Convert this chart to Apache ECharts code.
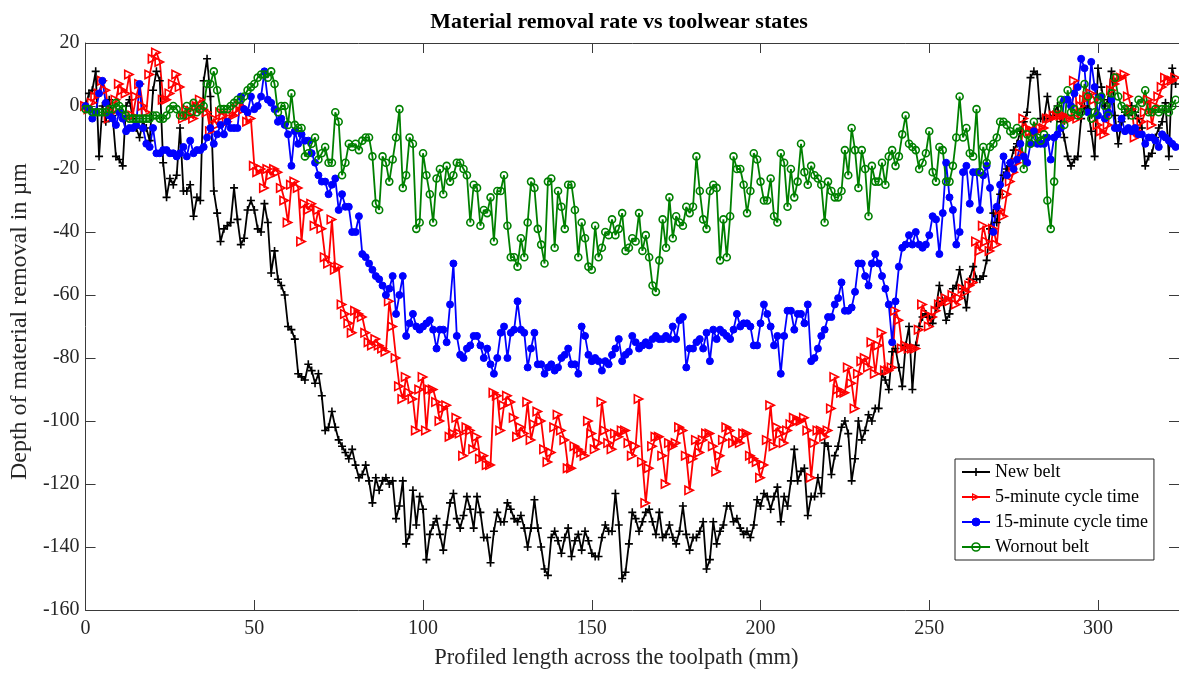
<!DOCTYPE html>
<html>
<head>
<meta charset="utf-8">
<script src="https://cdn.jsdelivr.net/npm/echarts@6/dist/echarts.min.js"></script>
<style>
html,body{margin:0;padding:0;background:#fff;}
#chart{width:1179px;height:675px;}
</style>
</head>
<body>
<div id="chart"></div>
<script>
// Sample spacing along the profile (mm); samples start at 0 mm
const SAMPLE_START_MM = 0;
const SAMPLE_STEP_MM = 1;

const seriesNames = ['New belt', '5-minute cycle time', '15-minute cycle time', 'Wornout belt'];

const newBelt = [
  0,4,5,11,-16,0,-5,2,-3,-16,
  -17,-19,0,2,-4,-7,-10,-5,-7,-11,
  5,11,8,-18,-29,-23,-25,-22,-7,-27,
  -27,-25,-35,-29,-30,8,15,3,-27,-34,
  -43,-39,-38,-37,-26,-36,-44,-42,-33,-30,
  -33,-39,-40,-31,-37,-53,-46,-55,-57,-60,
  -70,-71,-74,-85,-86,-87,-82,-84,-88,-85,
  -92,-103,-102,-97,-102,-106,-108,-110,-112,-109,
  -114,-118,-117,-114,-119,-126,-118,-122,-119,-118,
  -120,-119,-131,-127,-119,-139,-136,-122,-133,-124,
  -128,-144,-136,-133,-131,-136,-141,-133,-126,-123,
  -131,-134,-130,-124,-128,-134,-124,-129,-137,-137,
  -145,-135,-129,-132,-132,-126,-128,-131,-132,-130,
  -134,-140,-134,-125,-134,-140,-147,-149,-137,-135,
  -138,-142,-137,-134,-143,-138,-136,-141,-135,-138,
  -142,-143,-143,-137,-133,-135,-135,-123,-133,-150,
  -148,-139,-129,-131,-135,-132,-129,-128,-132,-136,
  -129,-137,-136,-133,-137,-139,-135,-127,-136,-141,
  -137,-137,-135,-132,-147,-144,-132,-139,-135,-133,
  -127,-127,-132,-131,-134,-136,-135,-137,-133,-125,
  -127,-123,-124,-128,-124,-121,-132,-124,-127,-119,
  -109,-119,-116,-115,-130,-124,-124,-118,-123,-107,
  -108,-117,-111,-108,-102,-100,-104,-119,-112,-100,
  -106,-103,-98,-100,-96,-96,-85,-87,-90,-78,
  -77,-83,-89,-76,-70,-90,-76,-70,-67,-66,
  -67,-69,-64,-57,-62,-68,-66,-58,-57,-52,
  -58,-64,-55,-51,-55,-55,-54,-49,-39,-34,
  -37,-28,-22,-20,-18,-14,-12,-8,-5,-2,
  9,11,10,-4,-4,3,-4,-2,0,-5,
  -10,-16,-19,-17,-16,-4,0,-1,-8,-16,
  12,6,0,2,11,-3,-12,-5,-2,-3,
  0,-2,-4,-7,-19,-16,-15,-10,-7,-5,
  1,-16,12,7
];

const fiveMinute = [
  0,-1,1,3,4,8,5,-4,-2,2,
  7,5,4,10,-3,3,7,0,-2,10,
  15,17,14,2,2,4,7,10,6,-4,
  -1,-3,-4,0,2,-1,-2,-8,-4,-6,
  -2,-3,-5,-3,-3,-1,0,-1,-5,-4,
  -19,-21,-20,-26,-20,-22,-20,-21,-26,-30,
  -37,-25,-24,-26,-43,-31,-33,-31,-38,-33,
  -39,-48,-50,-36,-52,-51,-63,-66,-69,-72,
  -65,-66,-67,-72,-75,-76,-74,-76,-77,-78,
  -62,-70,-80,-89,-93,-86,-91,-93,-103,-90,
  -86,-103,-90,-90,-94,-100,-96,-95,-105,-104,
  -99,-104,-111,-102,-103,-109,-105,-112,-111,-114,
  -114,-91,-92,-103,-95,-92,-94,-99,-105,-102,
  -104,-94,-106,-101,-97,-100,-109,-113,-110,-102,
  -98,-103,-106,-115,-115,-108,-109,-110,-111,-100,
  -104,-109,-107,-94,-103,-107,-109,-104,-105,-103,
  -103,-107,-111,-108,-93,-113,-126,-115,-108,-105,
  -105,-111,-120,-107,-108,-107,-102,-103,-111,-122,
  -112,-106,-110,-106,-104,-104,-108,-116,-111,-106,
  -102,-103,-107,-106,-107,-104,-104,-111,-112,-113,
  -118,-114,-106,-95,-108,-102,-104,-107,-103,-101,
  -99,-100,-100,-99,-103,-118,-107,-103,-103,-105,
  -103,-96,-86,-90,-91,-91,-83,-88,-96,-85,
  -81,-80,-83,-75,-85,-76,-72,-84,-84,-83,
  -65,-68,-77,-76,-77,-77,-77,-71,-63,-66,
  -70,-67,-65,-63,-62,-61,-62,-60,-63,-61,
  -58,-59,-57,-56,-43,-46,-38,-43,-46,-39,
  -44,-33,-35,-28,-24,-21,-18,-15,-4,-7,
  -8,-8,-8,-7,-7,-4,-4,-3,-3,-3,
  -3,-4,-4,8,-4,0,2,3,4,2,
  -6,-8,-9,-6,5,7,9,9,10,3,
  -1,-10,-8,-5,-2,2,-6,0,3,6,
  9,8,8,9
];

const fifteenMinute = [
  0,-1,-4,-2,4,8,1,-3,-4,-6,
  -2,-4,-8,-7,-7,-6,7,-7,-12,-13,
  -7,-15,-15,-14,-14,-15,-15,-16,-15,-13,
  -16,-11,-15,-14,-14,-13,-10,-7,-12,-9,
  -6,-9,-5,-7,-7,-7,3,-1,-2,3,
  -1,0,3,11,2,1,-1,-5,-4,-6,
  -9,-19,-8,-12,-9,-11,-11,-15,-18,-22,
  -24,-24,-28,-25,-23,-33,-28,-32,-32,-40,
  -40,-35,-47,-48,-50,-52,-54,-55,-57,-60,
  -58,-54,-66,-60,-54,-73,-69,-66,-70,-71,
  -70,-69,-68,-71,-77,-71,-71,-75,-63,-50,
  -73,-79,-80,-77,-76,-73,-73,-76,-80,-77,
  -82,-85,-80,-72,-70,-80,-72,-71,-62,-71,
  -72,-83,-77,-72,-82,-82,-85,-83,-82,-84,
  -83,-80,-79,-77,-82,-82,-85,-70,-73,-79,
  -81,-80,-81,-84,-81,-82,-79,-77,-74,-81,
  -79,-78,-73,-75,-77,-76,-75,-76,-74,-73,
  -74,-74,-73,-74,-70,-74,-68,-67,-83,-77,
  -77,-75,-74,-77,-72,-81,-71,-74,-71,-72,
  -73,-74,-71,-66,-70,-69,-69,-70,-76,-76,
  -69,-63,-66,-70,-76,-73,-85,-73,-65,-65,
  -71,-66,-66,-69,-63,-81,-80,-77,-73,-71,
  -67,-67,-63,-61,-56,-65,-65,-64,-59,-50,
  -50,-54,-57,-50,-47,-50,-54,-58,-63,-75,
  -62,-51,-45,-44,-41,-44,-40,-44,-45,-44,
  -41,-35,-36,-47,-34,-18,-29,-33,-44,-40,
  -21,-19,-31,-21,-21,-33,-22,-19,-26,-40,
  -32,-25,-16,-22,-18,-20,-17,-12,-16,-18,
  -12,-8,-12,-12,-12,-10,-17,-10,-9,-7,
  2,2,0,4,6,15,12,-2,14,6,
  -3,3,-4,-2,2,-7,-7,-4,-8,-7,
  -8,-7,-9,-9,-12,-10,-10,-11,-13,-9,
  -10,-11,-12,-13
];

const wornoutBelt = [
  -1,-1,-2,-2,-2,-2,-2,-1,-1,1,
  0,-1,-3,-4,-4,-4,-4,-4,-4,-4,
  -3,-3,-4,-4,-3,-1,0,-1,-3,-3,
  0,-2,1,-2,-1,0,7,7,11,5,
  -1,-1,-1,0,1,2,2,3,5,6,
  7,9,10,10,9,11,7,-2,0,0,
  -6,4,-6,-7,-7,-16,-15,-12,-10,-17,
  -15,-13,-18,-18,-2,-5,-22,-18,-12,-13,
  -12,-14,-11,-10,-10,-16,-31,-33,-16,-18,
  -24,-17,-10,-1,-26,-22,-10,-12,-39,-37,
  -15,-22,-28,-37,-23,-20,-28,-19,-24,-22,
  -18,-18,-20,-22,-37,-25,-26,-38,-33,-34,
  -29,-43,-27,-27,-22,-38,-48,-48,-51,-42,
  -48,-37,-24,-26,-39,-44,-50,-24,-23,-45,
  -27,-32,-39,-25,-25,-33,-48,-37,-42,-51,
  -52,-38,-48,-45,-40,-41,-36,-41,-39,-34,
  -46,-45,-42,-43,-34,-46,-41,-48,-57,-59,
  -49,-36,-45,-29,-42,-35,-37,-38,-32,-34,
  -32,-16,-27,-36,-39,-27,-25,-26,-49,-36,
  -48,-35,-16,-20,-20,-25,-34,-27,-15,-17,
  -24,-30,-30,-23,-35,-37,-15,-18,-32,-20,
  -29,-24,-12,-21,-25,-19,-22,-23,-25,-37,
  -24,-27,-29,-29,-27,-14,-22,-7,-14,-26,
  -14,-20,-35,-19,-24,-24,-18,-25,-16,-14,
  -19,-16,-9,-3,-12,-13,-14,-20,-18,-15,
  -8,-21,-24,-13,-14,-24,-24,-19,-10,3,
  -10,-7,-15,-16,-1,-21,-13,-18,-13,-12,
  -10,-5,-5,-6,-8,-9,-7,-8,-20,-9,
  -12,-5,-10,-11,-9,-30,-39,-24,-1,2,
  -6,5,-2,-1,-3,-2,7,3,-4,-2,
  2,3,0,-3,4,9,3,0,-1,-2,
  -3,-1,2,1,5,-2,-2,-1,-2,-1,
  -1,-2,0,2
];

const xTickValues = [0, 50, 100, 150, 200, 250, 300];
const yTickValues = [-160, -140, -120, -100, -80, -60, -40, -20, 0, 20];

function toPairs(values) {
  return values.map((v, i) => [SAMPLE_START_MM + i * SAMPLE_STEP_MM, v]);
}

const FONT = '"Liberation Serif", "Times New Roman", serif';
const AXIS_COLOR = '#3a3a3a';
const TEXT_COLOR = '#262626';

// Marker shapes (MATLAB-like): plus, open right-pointing triangle (outline ring), dots, open circles
const PLUS_PATH = 'path://M5,0L5,10M0,5L10,5';
const TRIANGLE_RING_PATH = 'path://M0,0L10,5L0,10Z M1.5,2.43L1.5,7.57L6.64,5Z';

const chart = echarts.init(document.getElementById('chart'), null, {renderer: 'canvas'});

const xCommon = {
  type: 'value',
  min: xTickValues[0],
  max: 324,
  interval: xTickValues[1] - xTickValues[0],
  splitLine: {show: false},
  axisLine: {onZero: false, lineStyle: {color: AXIS_COLOR, width: 1}},
  axisTick: {inside: true, length: 10, lineStyle: {color: AXIS_COLOR}}
};
const yCommon = {
  type: 'value',
  min: yTickValues[0],
  max: yTickValues[yTickValues.length - 1],
  interval: yTickValues[1] - yTickValues[0],
  splitLine: {show: false},
  axisLine: {onZero: false, lineStyle: {color: AXIS_COLOR, width: 1}},
  axisTick: {inside: true, length: 10, lineStyle: {color: AXIS_COLOR}}
};

const lineW = 1.8;

const styles = [
  {line: '#000000', item: {color: 'rgba(0,0,0,0)', borderColor: '#000000', borderWidth: 1.6}},
  {line: '#ff0000', item: {color: '#ff0000', borderColor: '#ff0000', borderWidth: 0}},
  {line: '#0000ff', item: {color: '#0000ff', borderColor: '#0000ff', borderWidth: 1}},
  {line: '#008000', item: {color: 'rgba(0,128,0,0)', borderColor: '#008000', borderWidth: 1.6}}
];

const option = {
  animation: false,
  backgroundColor: '#ffffff',
  title: {
    text: 'Material removal rate vs toolwear states',
    left: 614,
    top: 6,
    textAlign: 'center',
    textStyle: {fontFamily: FONT, fontSize: 22, fontWeight: 'bold', color: '#000'}
  },
  grid: {left: 83, right: -1, top: 43, bottom: 64, containLabel: false},
  xAxis: [
    Object.assign({}, xCommon, {
      position: 'bottom',
      name: 'Profiled length across the toolpath (mm)',
      nameLocation: 'middle',
      nameGap: 37,
      nameTextStyle: {fontFamily: FONT, fontSize: 22.5, color: TEXT_COLOR, padding: [0, 32, 0, 0]},
      axisLabel: {fontFamily: FONT, fontSize: 20, color: TEXT_COLOR, margin: 9, showMaxLabel: false}
    }),
    Object.assign({}, xCommon, {
      position: 'top',
      axisLabel: {show: false}
    })
  ],
  yAxis: [
    Object.assign({}, yCommon, {
      position: 'left',
      name: 'Depth of material removal in µm',
      nameLocation: 'middle',
      nameGap: 47,
      nameTextStyle: {fontFamily: FONT, fontSize: 24, color: TEXT_COLOR, padding: [0, 0, 0, 10]},
      axisLabel: {fontFamily: FONT, fontSize: 20, color: TEXT_COLOR, margin: 6}
    }),
    Object.assign({}, yCommon, {
      position: 'right',
      axisLabel: {show: false}
    })
  ],
  legend: {
    orient: 'vertical',
    left: 955,
    top: 459,
    padding: [4, 6, 4, 6],
    itemGap: 7,
    itemWidth: 28,
    itemHeight: 10,
    borderColor: '#222',
    borderWidth: 1,
    backgroundColor: '#fff',
    textStyle: {fontFamily: FONT, fontSize: 18, color: '#000'},
    data: seriesNames.map((n, i) => ({name: n, itemStyle: styles[i].item}))
  },
  series: [
    {
      name: seriesNames[0],
      type: 'line',
      data: toPairs(newBelt),
      symbol: PLUS_PATH,
      symbolSize: 8,
      showAllSymbol: true,
      lineStyle: {color: styles[0].line, width: lineW},
      itemStyle: styles[0].item
    },
    {
      name: seriesNames[1],
      type: 'line',
      data: toPairs(fiveMinute),
      symbol: TRIANGLE_RING_PATH,
      symbolSize: 11,
      showAllSymbol: true,
      lineStyle: {color: styles[1].line, width: lineW},
      itemStyle: styles[1].item
    },
    {
      name: seriesNames[2],
      type: 'line',
      data: toPairs(fifteenMinute),
      symbol: 'circle',
      symbolSize: 7,
      showAllSymbol: true,
      lineStyle: {color: styles[2].line, width: lineW},
      itemStyle: styles[2].item
    },
    {
      name: seriesNames[3],
      type: 'line',
      data: toPairs(wornoutBelt),
      symbol: 'circle',
      symbolSize: 7,
      showAllSymbol: true,
      lineStyle: {color: styles[3].line, width: lineW},
      itemStyle: styles[3].item
    }
  ]
};

chart.setOption(option);
</script>
</body>
</html>
